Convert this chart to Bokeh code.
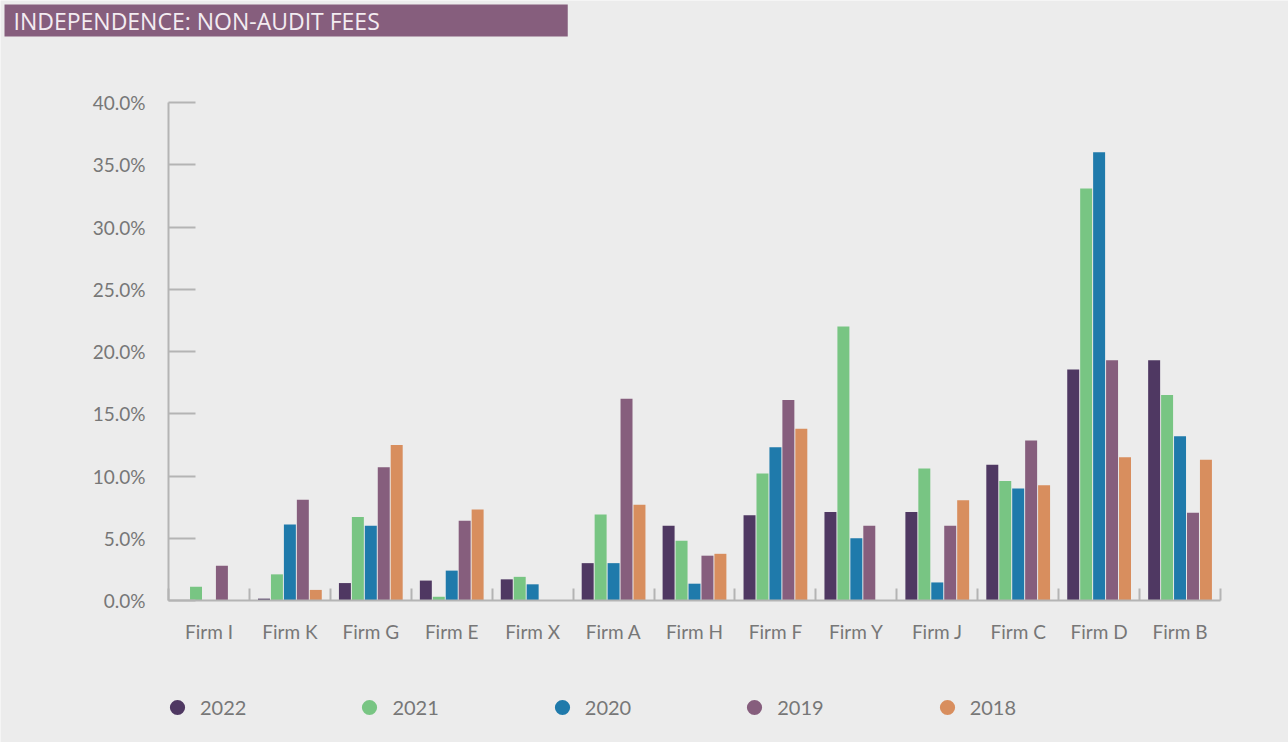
from bokeh.plotting import figure
from bokeh.models import (FixedTicker, PrintfTickFormatter, Label, LinearAxis, Range1d,
                          Legend, LegendItem, ColumnDataSource, CustomJSTickFormatter)
from bokeh.transform import dodge
from bokeh.embed import file_html
from bokeh.resources import INLINE

firms = ["Firm I", "Firm K", "Firm G", "Firm E", "Firm X", "Firm A", "Firm H",
         "Firm F", "Firm Y", "Firm J", "Firm C", "Firm D", "Firm B"]
years = ["2022", "2021", "2020", "2019", "2018"]
v2022 = [0.0, 0.15, 1.4, 1.6, 1.7, 3.0, 6.0, 6.85, 7.1, 7.1, 10.9, 18.55, 19.3]
v2021 = [1.1, 2.1, 6.7, 0.3, 1.9, 6.9, 4.8, 10.2, 22.0, 10.6, 9.6, 33.1, 16.5]
v2020 = [0.0, 6.1, 6.0, 2.4, 1.3, 3.0, 1.35, 12.3, 5.0, 1.45, 9.0, 36.0, 13.2]
v2019 = [2.8, 8.1, 10.7, 6.4, 0.0, 16.2, 3.6, 16.1, 6.0, 6.0, 12.85, 19.3, 7.05]
v2018 = [0.0, 0.85, 12.5, 7.3, 0.0, 7.7, 3.75, 13.8, 0.0, 8.05, 9.25, 11.5, 11.3]
y_ticks = [0, 5, 10, 15, 20, 25, 30, 35, 40]
title_text = "INDEPENDENCE: NON-AUDIT FEES"

colors = ["#4f3862", "#78c583", "#1f7aab", "#865e7d", "#d88e5e"]
series = [v2022, v2021, v2020, v2019, v2018]
offsets = [-0.32, -0.16, 0.0, 0.16, 0.32]

BG = "#ececec"
AX = "#b4b4b4"
TXT = "#777777"
FONT = "Lato"

# layout geometry (pixels)
W, H = 1288, 742
PLOT_L, PLOT_R, PLOT_T, PLOT_B = 168, 1220, 102, 600
n = len(firms)
px_x = (PLOT_R - PLOT_L) / n          # pixels per category
px_y = (PLOT_B - PLOT_T) / 40.0       # pixels per percent

xc = [i + 0.5 for i in range(n)]      # category centres
src = ColumnDataSource(dict(xc=xc, firm=firms, **{"y" + y: s for y, s in zip(years, series)}))

p = figure(width=W, height=H,
           x_range=Range1d(-PLOT_L / px_x, n + (W - PLOT_R) / px_x),
           y_range=Range1d(-(H - PLOT_B) / px_y, 40 + PLOT_T / px_y),
           x_axis_type=None, y_axis_type=None,
           output_backend="svg", toolbar_location=None, min_border=0)
p.background_fill_color = BG
p.border_fill_color = BG
p.outline_line_color = None
p.xgrid.grid_line_color = None
p.ygrid.grid_line_color = None

for y, c, off in zip(years, colors, offsets):
    p.vbar(x=dodge("xc", off), top="y" + y, width=0.148, source=src,
           fill_color=c, line_color=None)

# y axis
yax = LinearAxis(fixed_location=0, bounds=(0, 40), ticker=FixedTicker(ticks=y_ticks),
                 formatter=PrintfTickFormatter(format="%.1f%%"),
                 major_tick_in=27, major_tick_out=0, minor_tick_line_color=None,
                 major_tick_line_color=AX, major_tick_line_width=2,
                 axis_line_color=AX, axis_line_width=2, major_label_standoff=23,
                 major_label_text_font=FONT, major_label_text_font_size="19px",
                 major_label_text_color=TXT)
p.add_layout(yax, "left")

# x axis line with group separators
xsep = LinearAxis(fixed_location=0, bounds=(0, n), ticker=FixedTicker(ticks=list(range(n + 1))),
                  major_tick_in=12, major_tick_out=0, minor_tick_line_color=None,
                  major_tick_line_color=AX, major_tick_line_width=2,
                  axis_line_color=AX, axis_line_width=2, major_label_text_color=None)
p.add_layout(xsep, "below")

# x axis category labels
xlab = LinearAxis(fixed_location=0, ticker=FixedTicker(ticks=xc),
                  formatter=CustomJSTickFormatter(args=dict(names=firms),
                                                  code="return names[Math.floor(tick)] || '';"),
                  axis_line_color=None, major_tick_line_color=None, minor_tick_line_color=None,
                  major_tick_in=0, major_tick_out=0, major_label_standoff=19,
                  major_label_text_font=FONT, major_label_text_font_size="19px",
                  major_label_text_color=TXT)
p.add_layout(xlab, "below")

# title band
p.add_layout(Label(x=4, y=H - 4, x_units="screen", y_units="screen", anchor="top_left",
                   text=title_text, text_font="Open Sans", text_font_size="23px",
                   text_color="#f3ecf1", background_fill_color="#865e7d",
                   padding=dict(left=9, right=188, top=0, bottom=0)))

# legend (invisible zero-size markers at the bar tops provide the legend glyphs)
items = []
for y, c, off in zip(years, colors, offsets):
    r = p.scatter(x=dodge("xc", off), y="y" + y, source=src, size=0, marker="circle",
                  fill_color=c, line_color=None)
    items.append(LegendItem(label=y, renderers=[r]))
legend = Legend(items=items, orientation="horizontal", location=(158, 16),
                glyph_width=38, glyph_height=38, label_standoff=4, spacing=104,
                padding=0, margin=0, border_line_color=None, background_fill_alpha=0,
                label_text_font=FONT, label_text_font_size="20px", label_text_color=TXT)
p.add_layout(legend)

open("out.html", "w").write(file_html(p, INLINE))
